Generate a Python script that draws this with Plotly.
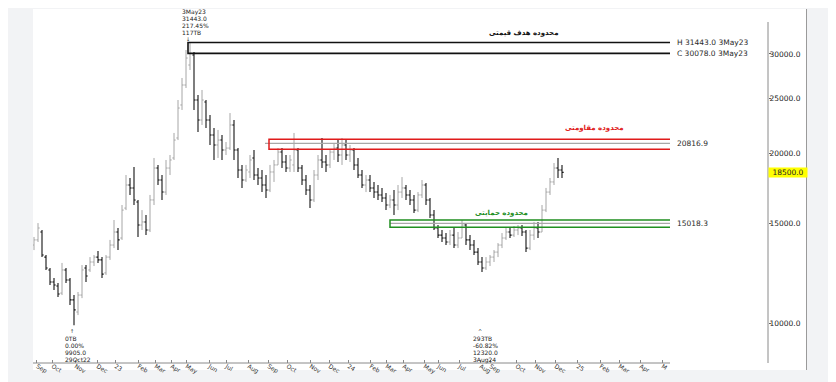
import numpy as np
import plotly.graph_objects as go

# ---------------- data ----------------
open_ = [13750, 14040, 14500, 13090, 12420, 11820, 11630, 11300, 12420, 11920,
         10990, 10460, 11210, 12520, 12420, 12830, 13090, 12940, 12270, 13090,
         13750, 14500, 14150, 15990, 17570, 17360, 16390, 14920, 15110, 14620,
         16530, 18830, 17930, 17070, 18830, 19620, 21290, 24360, 26430, 28680,
         29880, 24860, 22910, 24660, 22910, 21550, 20690, 21110, 20270, 20430,
         22450, 20270, 18680, 17930, 18530, 19620, 18300, 18080, 17570, 17210,
         18530, 19070, 20100, 19300, 18830, 19070, 20270, 18830, 17930, 17210,
         16530, 18300, 19460, 19300, 19070, 20100, 20430, 19860, 20690, 19860,
         20270, 19070, 18300, 17570, 17930, 17360, 17070, 16870, 16660, 16190,
         16530, 16190, 17070, 17360, 16870, 16530, 15860, 16870, 17570, 16530,
         15540, 14740, 14320, 14150, 13920, 14320, 13750, 14150, 14920, 14040,
         13750, 13360, 12830, 12520, 12830, 13090, 13360, 13750, 14150, 14500,
         14320, 14620, 14740, 14500, 13580, 14320, 14740, 14500, 15860, 17070,
         17790, 18830, 18680]
high = [14210, 15040, 14620, 13200, 12520, 12020, 11770, 12780, 12520, 12020,
        11210, 11350, 12670, 12670, 13090, 13200, 13420, 13090, 13200, 14040,
        15230, 14740, 16190, 18300, 18080, 18910, 16530, 15860, 15540, 16870,
        19620, 19070, 18300, 19460, 19860, 21730, 24860, 27200, 30490, 31443,
        30240, 25370, 25900, 24860, 23380, 22170, 22000, 21550, 20940, 23570,
        22910, 20430, 19070, 19070, 19860, 20270, 18830, 18680, 18300, 19070,
        19460, 20430, 20430, 19860, 19860, 21730, 20430, 19070, 18300, 17570,
        18680, 19860, 21290, 19860, 20270, 20860, 21110, 21290, 21110, 20690,
        20430, 19620, 18680, 18300, 18300, 17790, 17570, 17360, 17000, 16870,
        17210, 17570, 18150, 17570, 17210, 16870, 17070, 17930, 17710, 16660,
        15860, 14920, 14620, 14440, 14620, 14740, 14500, 15230, 15040, 14320,
        14040, 13580, 13090, 13090, 13200, 13470, 13860, 14440, 14740, 14740,
        14860, 14920, 14920, 14620, 14620, 15110, 15110, 16190, 17360, 18080,
        19220, 19620, 19070]
low = [13470, 13920, 13090, 12420, 11680, 11440, 11120, 11210, 11770, 10760,
       9905, 10330, 11070, 11820, 12320, 12620, 12780, 12020, 12170, 12940,
       13580, 13470, 14040, 15860, 16870, 16190, 14210, 14620, 14320, 14500,
       16190, 17570, 16530, 16870, 18300, 19460, 21110, 23870, 26110, 28100,
       23870, 21820, 22450, 22170, 20690, 19460, 19620, 19460, 19860, 20270,
       19460, 18080, 17360, 17790, 18080, 17930, 17570, 17070, 16660, 17070,
       17790, 19070, 18830, 18530, 18530, 18530, 18530, 17570, 16870, 15990,
       16390, 17930, 18830, 18530, 18830, 19460, 19300, 19070, 19460, 19300,
       18680, 18080, 17360, 17070, 17070, 16660, 16530, 16390, 15860, 15990,
       15540, 15860, 16660, 16530, 16190, 15670, 15730, 16660, 16190, 15350,
       14620, 14150, 13920, 13750, 13750, 13580, 13580, 14150, 13750, 13470,
       13200, 12670, 12320, 12420, 12620, 12830, 13090, 13580, 14040, 14150,
       14210, 14320, 14270, 13360, 13470, 14040, 14150, 14500, 15730, 16870,
       17570, 18080, 18080]
close = [14040, 14740, 13200, 12520, 11820, 11680, 11260, 12420, 11920, 10990,
         10550, 11210, 12420, 12120, 12830, 13090, 12940, 12210, 13090, 13750,
         14500, 14040, 15860, 17570, 17360, 16530, 14920, 15110, 14620, 16530,
         18830, 17930, 17070, 18830, 19460, 21110, 24060, 26430, 29510, 30078,
         24860, 22910, 24860, 22910, 21550, 20690, 21110, 20270, 20430, 22450,
         20270, 18680, 17930, 18680, 19460, 18300, 18080, 17570, 17210, 18530,
         19070, 20100, 19300, 18830, 19460, 20270, 18830, 17930, 17210, 16530,
         18300, 19460, 19300, 19070, 20100, 20430, 19860, 20690, 19860, 20270,
         19070, 18300, 17570, 17930, 17360, 17070, 16870, 16660, 16190, 16530,
         16190, 17070, 17360, 16870, 16530, 15860, 16870, 17570, 16530, 15540,
         14740, 14320, 14150, 13920, 14320, 13750, 14150, 14920, 14040, 13750,
         13360, 12830, 12520, 12830, 13090, 13360, 13750, 14150, 14500, 14320,
         14620, 14740, 14500, 13580, 14320, 14740, 14500, 15860, 17070, 17790,
         18830, 18680, 18500]
bar_no = list(range(len(close)))

month_labels = ["Sep", "Oct", "Nov", "Dec", "23", "Feb", "Mar", "Apr", "May", "Jun",
                "Jul", "Aug", "Sep", "Oct", "Nov", "Dec", "24", "Feb", "Mar", "Apr",
                "May", "Jun", "Jul", "Aug", "Sep", "Oct", "Nov", "Dec", "25", "Feb",
                "Mar", "Apr", "M"]
month_starts = [0.7, 4.5, 10.25, 15.75, 20.25, 26.0, 30.25, 34.25, 38.0, 43.75,
                48.0, 53.5, 58.5, 63.25, 69.0, 73.75, 78.5, 84.0, 88.0, 92.25,
                97.5, 101.0, 106.25, 111.5, 114.0, 120.5, 125.25, 130.25, 135.75, 141.5,
                146.25, 151.5, 157.0]

y_tick_vals = [10000, 15000, 20000, 25000, 30000]
y_tick_text = ["10000.0", "15000.0", "20000.0", "25000.0", "30000.0"]
last_price = 18500.0

peak_high, peak_close = 31443.0, 30078.0
res_top, res_mid, res_bot = 21180.0, 20816.9, 20330.0
sup_top, sup_mid, sup_bot = 15230.0, 15018.3, 14780.0

peak_text = ["3May23", "31443.0", "217.45%", "117TB"]
low1_text = ["0TB", "0.00%", "9905.0", "29Oct22"]
low2_text = ["293TB", "-60.82%", "12320.0", "3Aug24"]

# ---------------- layout constants ----------------
# (the page body adds an 8px offset, so the figure is 8px smaller than the window)
W, H = 828, 374
ML, MR, MT, MB = 25, 68, 1, 19
PLOT_BOTTOM_PAGE, PLOT_H = 363, 354
X_RANGE = [-0.25, 183.5]
Y_RANGE = [3.9291, 4.5569]
ZONE_END = 159.0
TARGET_X0 = 38.5
RES_X0, RES_MID_X0 = 58.75, 57.75
SUP_X0 = 89.0
LABEL_X = 160.25
FONT = "DejaVu Sans"


def py(y_page):
    """page pixel row -> paper y"""
    return (PLOT_BOTTOM_PAGE - y_page) / PLOT_H


fig = go.Figure()

fig.add_trace(go.Ohlc(
    x=bar_no, open=open_, high=high, low=low, close=close,
    increasing=dict(line=dict(color="#a6a6a6", width=1.0)),
    decreasing=dict(line=dict(color="#151515", width=1.1)),
    tickwidth=0.42, hoverinfo="skip", showlegend=False))


def line(xs, ys, color, width):
    fig.add_trace(go.Scatter(x=xs, y=ys, mode="lines", hoverinfo="skip",
                             line=dict(color=color, width=width), showlegend=False))


# target zone (black)
line([ZONE_END, TARGET_X0, TARGET_X0, ZONE_END],
     [peak_high, peak_high, peak_close, peak_close], "#111111", 1.6)
# resistance zone (red)
line([RES_MID_X0, ZONE_END], [res_mid, res_mid], "#a8a8a8", 1.3)
line([ZONE_END, RES_X0, RES_X0, ZONE_END], [res_top, res_top, res_bot, res_bot], "#e01b1b", 1.5)
# support zone (green)
line([SUP_X0, ZONE_END], [sup_mid, sup_mid], "#a8a8a8", 1.3)
line([ZONE_END, SUP_X0, SUP_X0, ZONE_END], [sup_top, sup_top, sup_bot, sup_bot], "#1f8f1f", 1.5)

ann = []
small = dict(family=FONT, size=7.5, color="#2a2a2a")
ann.append(dict(x=LABEL_X, y=np.log10(peak_high), text="H %.1f 3May23" % peak_high,
                xanchor="left", yanchor="middle", showarrow=False, font=small))
ann.append(dict(x=LABEL_X, y=np.log10(peak_close), text="C %.1f 3May23" % peak_close,
                xanchor="left", yanchor="middle", showarrow=False, font=small))
ann.append(dict(x=LABEL_X, y=np.log10(res_mid), text="%.1f" % res_mid,
                xanchor="left", yanchor="middle", showarrow=False, font=small))
ann.append(dict(x=LABEL_X, y=np.log10(sup_mid), text="%.1f" % sup_mid,
                xanchor="left", yanchor="middle", showarrow=False, font=small))

# persian zone titles
ann.append(dict(x=122.25, y=np.log10(peak_high), yshift=9, text="<b>محدوده هدف قیمتی</b>",
                showarrow=False, font=dict(family=FONT, size=7, color="#111111")))
ann.append(dict(x=140.0, y=np.log10(res_top), yshift=11, text="<b>محدوده مقاومتی</b>",
                showarrow=False, font=dict(family=FONT, size=7, color="#e01b1b")))
ann.append(dict(x=116.75, y=np.log10(sup_top), yshift=7, text="<b>محدوده حمایتی</b>",
                showarrow=False, font=dict(family=FONT, size=7, color="#1f8f1f")))

# peak / low markers
tiny = dict(family=FONT, size=6, color="#222222")
pk = int(np.argmax(high))
for k, t in enumerate(peak_text):
    ann.append(dict(x=pk, xshift=-9, xanchor="left", y=py(11.5 + 7 * k), yref="paper",
                    yanchor="middle", text=t, showarrow=False, font=tiny, borderpad=0))
ann.append(dict(x=pk, xshift=-2, y=py(39.5), yref="paper", yanchor="middle", text="↓",
                showarrow=False, font=dict(family=FONT, size=5, color="#222222"), borderpad=0))
lo1 = int(np.argmin(low))
lo2 = 100 + int(np.argmin(low[100:]))
for idx, txt, mark in ((lo1, low1_text, "↑"), (lo2, low2_text, "^")):
    ann.append(dict(x=idx, xshift=-2, y=py(331), yref="paper", yanchor="middle", text=mark,
                    showarrow=False, font=dict(family=FONT, size=5, color="#222222"), borderpad=0))
    for k, t in enumerate(txt):
        ann.append(dict(x=idx, xshift=-10, xanchor="left", y=py(338 + 7.3 * k), yref="paper",
                        yanchor="middle", text=t, showarrow=False, font=tiny, borderpad=0))

# last price tag
ann.append(dict(x=1.0, xref="paper", xanchor="left", y=np.log10(last_price), yanchor="middle",
                text="18500.0", showarrow=False, bgcolor="#ffff00", width=38, height=9,
                borderpad=0, font=dict(family=FONT, size=7.5, color="#222222")))

shapes = [
    # white panel
    dict(type="rect", xref="paper", yref="paper", x0=0, x1=1.0517, y0=py(370), y1=py(9),
         fillcolor="white", line=dict(width=0), layer="below"),
    # panel right border
    dict(type="line", xref="paper", yref="paper", x0=1.0524, x1=1.0524, y0=py(370), y1=py(9),
         line=dict(color="#9a9a9a", width=1)),
    # y axis line
    dict(type="line", xref="paper", yref="paper", x0=1.0, x1=1.0, y0=0, y1=py(22),
         line=dict(color="#8a8a8a", width=1)),
    # x axis line
    dict(type="line", xref="x", yref="paper", x0=X_RANGE[0], x1=ZONE_END, y0=0, y1=0,
         line=dict(color="#8a8a8a", width=1)),
]

fig.update_layout(
    width=W, height=H,
    margin=dict(l=ML, r=MR, t=MT, b=MB),
    paper_bgcolor="#f2f3f5", plot_bgcolor="white",
    showlegend=False, annotations=ann, shapes=shapes,
    xaxis=dict(range=X_RANGE, showgrid=False, zeroline=False, showline=False,
               tickmode="array", tickvals=month_starts, ticktext=month_labels,
               ticks="inside", ticklen=3, tickcolor="#888888",
               ticklabelposition="outside right", ticklabelstandoff=-2,
               tickfont=dict(family=FONT, size=6, color="#333333"),
               rangeslider=dict(visible=False)),
    yaxis=dict(type="log", range=Y_RANGE, side="right", showgrid=False, zeroline=False,
               showline=False, tickmode="array", tickvals=y_tick_vals, ticktext=y_tick_text,
               ticks="outside", ticklen=2, tickcolor="#666666", ticklabelstandoff=-3,
               tickfont=dict(family=FONT, size=7.5, color="#222222")),
)

fig.write_html("out.html")
